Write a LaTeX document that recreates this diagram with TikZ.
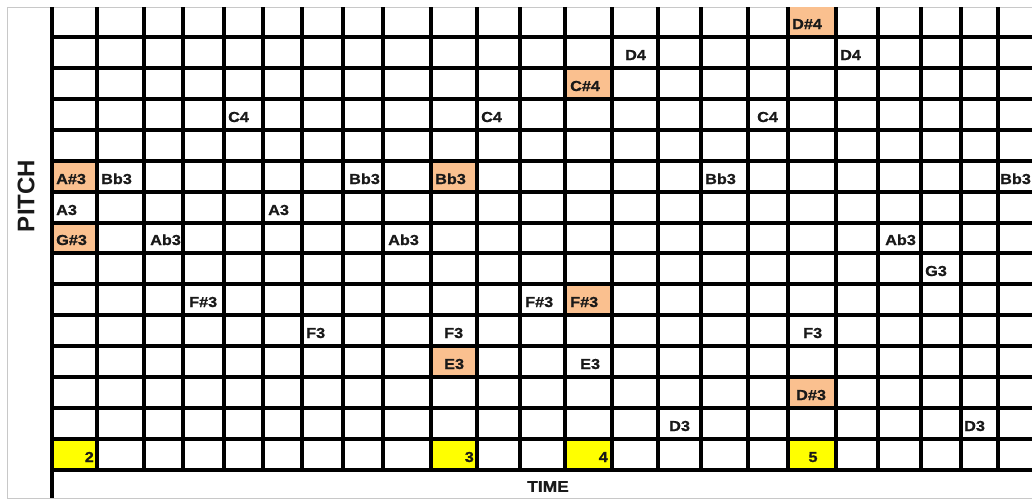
\documentclass[tikz,border=0pt]{standalone}
\usepackage{fontspec}
\setmainfont{Liberation Sans}
\newfontfamily\cellfont{Liberation Sans}[FakeStretch=1.12, BoldFeatures={FakeBold=0.8}]
\definecolor{peach}{RGB}{250,192,143}
\definecolor{hilite}{RGB}{255,255,0}
\definecolor{framegray}{RGB}{200,200,200}
\newcommand\notelbl[4]{\node[lbl] (#1) at (#2,#3) {#4};}
\begin{document}
\begin{tikzpicture}[x=1pt,y=-1pt,
  lbl/.style={font=\cellfont\bfseries\fontsize{14.5}{14.5}\selectfont, inner sep=0pt, anchor=base west, text=black!90},
  gridline/.style={line width=3.1pt, black},
  peachcell/.style={fill=peach},
  yellowcell/.style={fill=hilite}]
\useasboundingbox (0,0) rectangle (1032,499);
\fill[white] (0,0) rectangle (1032,499);
\def\cols{{52,97,144,183,224,263,302,343,383,431,477,520,565,612,658,701,748,788,836,878,921,961,998,1040}}
\def\rows{{7,37,68,99,130,161,192,223,253,284,315,346,377,408,439,470}}
% frame
\draw[framegray, line width=1pt] (1040,7) -- (7,7) -- (7,498) -- (1040,498);
% coloured cells
\foreach \c/\r in {17/0,12/2,0/5,9/5,0/7,12/9,9/11,17/12}{
  \pgfmathsetmacro\xa{\cols[\c]}\pgfmathsetmacro\xb{\cols[\c+1]}
  \pgfmathsetmacro\ya{\rows[\r]}\pgfmathsetmacro\yb{\rows[\r+1]}
  \fill[peachcell] (\xa,\ya) rectangle (\xb,\yb);}
\foreach \c in {0,9,12,17}{
  \pgfmathsetmacro\xa{\cols[\c]}\pgfmathsetmacro\xb{\cols[\c+1]}
  \fill[yellowcell] (\xa,439) rectangle (\xb,470);}
% grid
\foreach \x in {97,144,183,224,263,302,343,383,431,477,520,565,612,658,701,748,788,836,878,921,961,998}
  \draw[gridline] (\x,7) -- (\x,470);
\draw[gridline] (52,7) -- (52,498);
\foreach \y in {37,68,99,130,161,192,223,253,284,315,346,377,408,439,470}
  \draw[gridline] (52,\y) -- (1040,\y);
% note labels
\notelbl{dsfour}{792}{29}{D\#4}
\notelbl{dfoura}{625}{60}{D4}
\notelbl{dfourb}{840}{60}{D4}
\notelbl{csfour}{570}{91}{C\#4}
\notelbl{cfoura}{228}{122}{C4}
\notelbl{cfourb}{481}{122}{C4}
\notelbl{cfourc}{757}{122}{C4}
\notelbl{asthree}{56}{184}{A\#3}
\notelbl{bba}{101}{184}{Bb3}
\notelbl{bbb}{349}{184}{Bb3}
\notelbl{bbc}{435}{184}{Bb3}
\notelbl{bbd}{705}{184}{Bb3}
\notelbl{bbe}{1000}{184}{Bb3}
\notelbl{aa}{56}{215}{A3}
\notelbl{ab}{268}{215}{A3}
\notelbl{gsthree}{56}{245}{G\#3}
\notelbl{aba}{150}{245}{Ab3}
\notelbl{abb}{388}{245}{Ab3}
\notelbl{abc}{885}{245}{Ab3}
\notelbl{gthree}{925}{276}{G3}
\notelbl{fsa}{189}{307}{F\#3}
\notelbl{fsb}{525}{307}{F\#3}
\notelbl{fsc}{570}{307}{F\#3}
\notelbl{fa}{306}{338}{F3}
\notelbl{fb}{444}{338}{F3}
\notelbl{fc}{803}{338}{F3}
\notelbl{ea}{444}{369}{E3}
\notelbl{eb}{580}{369}{E3}
\notelbl{dsthree}{796}{400}{D\#3}
\notelbl{da}{669}{431}{D3}
\notelbl{db}{964}{431}{D3}
% bar numbers
\node[lbl, anchor=base east] (ntwo) at (94,462) {2};
\node[lbl, anchor=base east] (nthree) at (474,462) {3};
\node[lbl, anchor=base east] (nfour) at (608,462) {4};
\node[lbl, anchor=base] (nfive) at (813,462) {5};
% axis titles
\node[font=\bfseries\fontsize{24}{24}\selectfont, inner sep=0pt, rotate=90, text=black!90] (pitch) at (26,196) {PITCH};
\node[lbl, anchor=center, font=\cellfont\bfseries\fontsize{15.5}{15.5}\selectfont] (time) at (548,486.5) {TIME};
\end{tikzpicture}
\end{document}
